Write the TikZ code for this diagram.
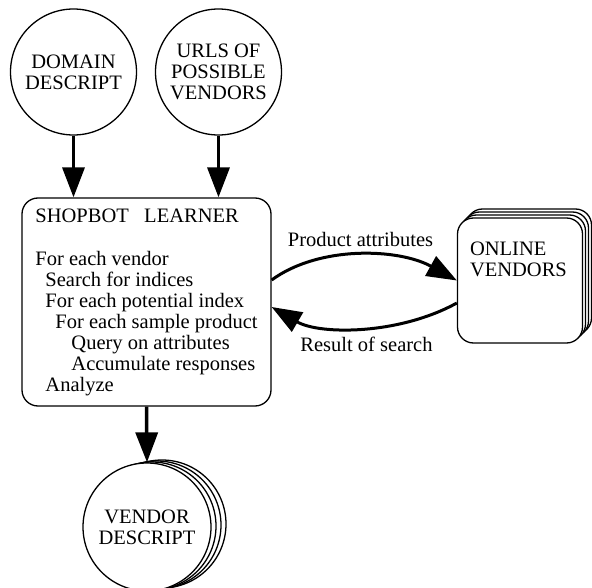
\documentclass[tikz,border=0pt]{standalone}
\usepackage{fontspec}
\setmainfont{Liberation Serif}
\usetikzlibrary{arrows.meta}

\tikzset{
  circnode/.style={circle, draw, line width=1.3pt, fill=white, minimum size=126pt, inner sep=0pt, align=center},
  boxnode/.style={rectangle, rounded corners=16pt, draw, line width=1.3pt, fill=white},
  flow/.style={-{Triangle[length=30pt,width=22pt]}, line width=3.5pt},
}

\begin{document}
\begin{tikzpicture}[x=1pt,y=-1pt,font=\fontsize{20.5}{21}\selectfont]
\useasboundingbox (0,0) rectangle (592,588);

% Inputs
\node[circnode] (domain) at (73.5,72) {DOMAIN\\DESCRIPT};
\node[circnode] (urls) at (218.5,72) {URLS OF\\POSSIBLE\\VENDORS};

% Learner
\node[boxnode, minimum width=249pt, minimum height=208pt, inner xsep=10pt, align=left] (learner) at (146.5,302) {%
SHOPBOT\hspace{0.75em}LEARNER\\[22pt]
For each vendor\\
\hspace*{10pt}Search for indices\\
\hspace*{10pt}For each potential index\\
\hspace*{20pt}For each sample product\\
\hspace*{36pt}Query on attributes\\
\hspace*{36pt}Accumulate responses\\
\hspace*{10pt}Analyze};

% Online vendors
\foreach \i in {3,2,1}
  \node[boxnode, minimum size=125pt] at ([shift={(3*\i,-3*\i)}]520,280.5) {};
\node[boxnode, minimum size=125pt,
  label={[anchor=north west, inner sep=0pt, xshift=13pt, yshift=-24pt, align=left]north west:ONLINE\\VENDORS}] (online) at (520,280.5) {};

% Vendor descriptions
\foreach \i in {3,2,1}
  \node[circnode, minimum size=128pt] at ([shift={(5*\i,-1*\i)}]147,527) {};
\node[circnode, minimum size=128pt] (vendor) at (147,527) {VENDOR\\DESCRIPT};

% Arrows
\draw[flow] (domain.south) -- (domain.south |- learner.north);
\draw[flow] (urls.south) -- (urls.south |- learner.north);
\draw[flow] (learner.south) -- (vendor.north);

\coordinate (pa) at ([yshift=22pt]learner.east);
\coordinate (rr) at ([yshift=-5pt]learner.east);
\coordinate (rs) at ([yshift=-22.5pt]online.west);

\draw[flow, line width=3pt] (pa) .. controls +(48,-35) and +(-58,-32) .. (online.west)
  node[midway, yshift=16pt] {Product attributes};
\draw[flow, line width=3pt] (rs) .. controls +(-58,32) and +(48,28) .. (rr)
  node[midway, xshift=6pt, yshift=-16.5pt] {Result of search};

\end{tikzpicture}
\end{document}
